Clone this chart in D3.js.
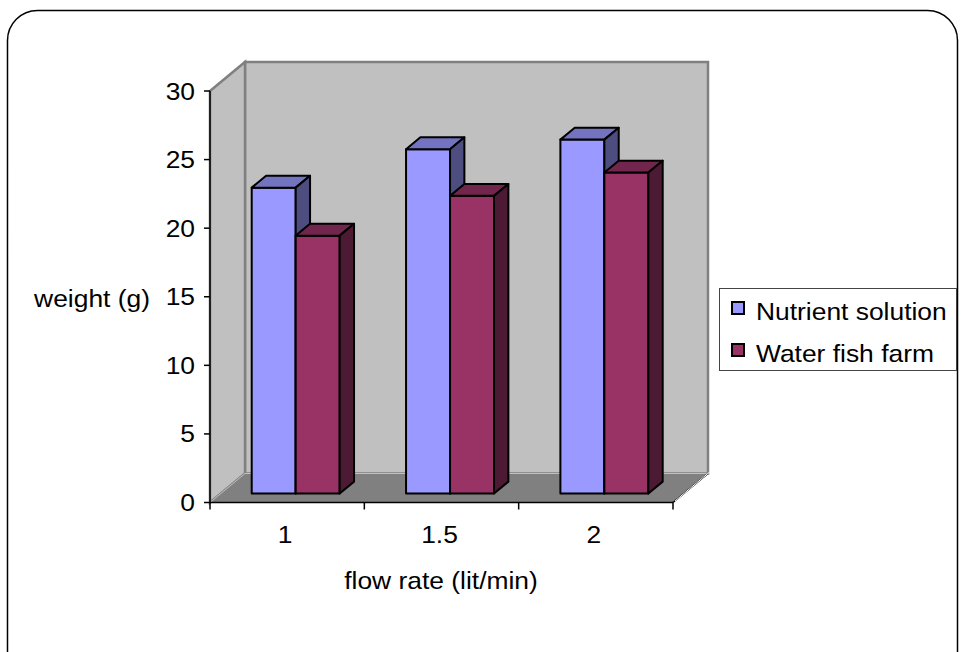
<!DOCTYPE html>
<html>
<head>
<meta charset="utf-8">
<script src="https://cdn.jsdelivr.net/npm/d3@7"></script>
<style>
  html, body { margin: 0; padding: 0; background: #fff; }
  svg { display: block; }
  text { font-family: "Liberation Sans", Arial, sans-serif; fill: #000; }
</style>
</head>
<body>
<svg id="chart" width="962" height="652"></svg>
<script>
// Data
const categories = ["1", "1.5", "2"];
const seriesNames = ["Nutrient solution", "Water fish farm"];
const nutrientSolution = [22.3, 25.1, 25.8];
const waterFishFarm = [18.8, 21.7, 23.4];
const yTicks = [0, 5, 10, 15, 20, 25, 30];
const seriesValues = [nutrientSolution, waterFishFarm];
const seriesColors = ["#9999ff", "#993366"];

const svg = d3.select("#chart");

// Chart frame
svg.append("rect")
  .attr("x", 7.5).attr("y", 10.5)
  .attr("width", 950).attr("height", 700)
  .attr("rx", 30).attr("ry", 30)
  .attr("fill", "#fff").attr("stroke", "#000").attr("stroke-width", 1.5);

// Projection of the 3-D box: front plane plus an oblique depth offset
const X0 = 210, X1 = 673;
const DX = 35, DY = 29;
const y = d3.scaleLinear().domain([0, 30]).range([502.5, 91]);
const x = d3.scaleBand().domain(categories).range([X0, X1]);
const xs = d3.scaleBand().domain(seriesNames)
  .range([x.bandwidth() * 0.2, x.bandwidth() * 0.77]);
const zFront = 0.31, zBack = 0.72;
const P = (px, v, z) => [px + z * DX, y(v) - z * DY];
const pts = arr => arr.map(p => p.join(",")).join(" ");

const g = svg.append("g");

// Back wall
g.append("polygon")
  .attr("points", pts([P(X0, 30, 1), P(X1, 30, 1), P(X1, 0, 1), P(X0, 0, 1)]))
  .attr("fill", "#c0c0c0").attr("stroke", "#808080").attr("stroke-width", 2.5);
// Side wall
g.append("polygon")
  .attr("points", pts([P(X0, 30, 0), P(X0, 30, 1), P(X0, 0, 1), P(X0, 0, 0)]))
  .attr("fill", "#c0c0c0").attr("stroke", "#808080").attr("stroke-width", 2.5);
// Floor
g.append("polygon")
  .attr("points", pts([P(X0, 0, 0), P(X0, 0, 1), P(X1, 0, 1), P(X1, 0, 0)]))
  .attr("fill", "#808080").attr("stroke", "#c0c0c0").attr("stroke-width", 1);
// Floor right edge
g.append("line")
  .attr("x1", P(X1, 0, 0)[0]).attr("y1", P(X1, 0, 0)[1])
  .attr("x2", P(X1, 0, 1)[0]).attr("y2", P(X1, 0, 1)[1])
  .attr("stroke", "#000").attr("stroke-width", 1.5);
g.append("line")
  .attr("x1", P(X1, 0, 0)[0] + 2).attr("y1", P(X1, 0, 0)[1] - 1.5)
  .attr("x2", P(X1, 0, 1)[0] + 1).attr("y2", P(X1, 0, 1)[1] - 1)
  .attr("stroke", "#fff").attr("stroke-width", 1);

// Bars
const shade = (c, k) => { const r = d3.rgb(c); return d3.rgb(r.r * k, r.g * k, r.b * k).formatHex(); };
const bars = g.append("g");
categories.forEach((cat, ci) => {
  seriesNames.forEach((s, si) => {
    const v = seriesValues[si][ci];
    const xl = x(cat) + xs(s), xr = xl + xs.bandwidth();
    const col = seriesColors[si];
    const bg = bars.append("g")
      .attr("stroke", "#000").attr("stroke-width", 2).attr("stroke-linejoin", "round");
    bg.append("polygon")
      .attr("points", pts([P(xl, v, zFront), P(xr, v, zFront), P(xr, 0, zFront), P(xl, 0, zFront)]))
      .attr("fill", col);
    bg.append("polygon")
      .attr("points", pts([P(xl, v, zFront), P(xl, v, zBack), P(xr, v, zBack), P(xr, v, zFront)]))
      .attr("fill", shade(col, 0.75));
    bg.append("polygon")
      .attr("points", pts([P(xr, v, zFront), P(xr, v, zBack), P(xr, 0, zBack), P(xr, 0, zFront)]))
      .attr("fill", shade(col, 0.5));
  });
});

// Text helper: slightly widened glyphs
const SX = 1.1, FS = 24;
function label(parent, tx, ty, str, anchor) {
  return parent.append("text")
    .attr("transform", `translate(${tx},${ty}) scale(${SX},1)`)
    .attr("text-anchor", anchor || "start")
    .attr("font-size", FS)
    .text(str);
}

// Y axis
const ya = svg.append("g");
ya.append("line").attr("x1", X0).attr("x2", X0).attr("y1", y(30)).attr("y2", y(0))
  .attr("stroke", "#000").attr("stroke-width", 1.5);
yTicks.forEach(t => {
  ya.append("line").attr("x1", X0 - 6).attr("x2", X0).attr("y1", y(t)).attr("y2", y(t))
    .attr("stroke", "#000").attr("stroke-width", 1.5);
  label(ya, 195, y(t) + 8.5, String(t), "end");
});

// X axis
const xa = svg.append("g");
xa.append("line").attr("x1", X0).attr("x2", X1).attr("y1", y(0)).attr("y2", y(0))
  .attr("stroke", "#000").attr("stroke-width", 1.5);
[X0].concat(categories.map(c => x(c) + x.bandwidth())).forEach(px => {
  xa.append("line").attr("x1", px).attr("x2", px).attr("y1", y(0)).attr("y2", y(0) + 7)
    .attr("stroke", "#000").attr("stroke-width", 1.5);
});
categories.forEach(c => label(xa, x(c) + x.bandwidth() / 2 - 2, 543, c, "middle"));

// Axis titles
label(svg, 441, 589, "flow rate (lit/min)", "middle");
label(svg, 150, 307, "weight (g)", "end");

// Legend
const lg = svg.append("g");
lg.append("rect").attr("x", 719.5).attr("y", 288.5).attr("width", 237).attr("height", 82)
  .attr("fill", "#fff").attr("stroke", "#444").attr("stroke-width", 1);
seriesNames.forEach((s, i) => {
  const yy = 302 + i * 42;
  lg.append("rect").attr("x", 732).attr("y", yy).attr("width", 12).attr("height", 12)
    .attr("fill", seriesColors[i]).attr("stroke", "#000").attr("stroke-width", 2);
  label(lg, 756, yy + 17.5, s, "start");
});
</script>
</body>
</html>
